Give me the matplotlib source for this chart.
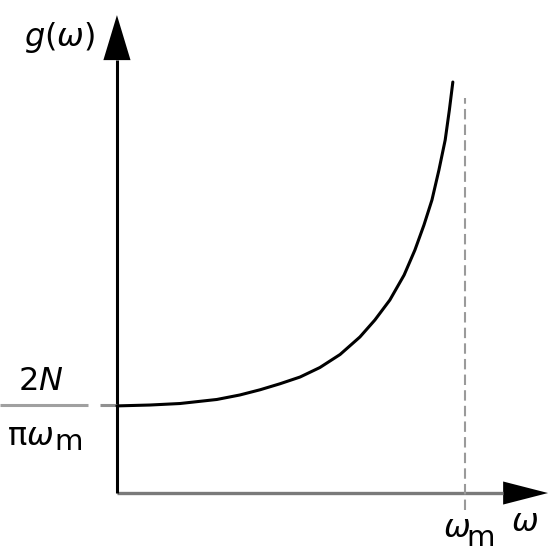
import matplotlib
matplotlib.use("Agg")
import matplotlib.pyplot as plt

# curve: omega / omega_m  vs  g / (2N / (pi omega_m))
omega = [0.0, 0.095, 0.181, 0.287, 0.353, 0.411, 0.468, 0.526, 0.583, 0.641,
         0.698, 0.741, 0.784, 0.825, 0.856, 0.882, 0.905, 0.925, 0.943, 0.955, 0.965]
g_val = [0.99, 1.0, 1.017, 1.063, 1.114, 1.173, 1.241, 1.318, 1.426, 1.574,
         1.773, 1.966, 2.193, 2.477, 2.761, 3.045, 3.330, 3.670, 4.011, 4.352, 4.670]

omega_m = 1.0
g_zero = 1.0

fig = plt.figure(figsize=(5.51, 5.60), dpi=100)
ax = fig.add_axes([0, 0, 1, 1])
ax.set_xlim(-0.336, 1.247)
ax.set_ylim(-0.761, 5.602)
ax.axis("off")

# axes with arrowheads
x_tip, y_tip = 1.2385, 5.43
xh_len, xh_w = 0.129, 0.131
yh_len, yh_w = 0.511, 0.039
ax.plot([0, x_tip - xh_len], [0, 0], color="#7a7a7a", lw=2.4, solid_capstyle="butt")
ax.fill([x_tip - xh_len, x_tip, x_tip - xh_len], [xh_w, 0, -xh_w], color="black", lw=0)
ax.plot([0, 0], [0, y_tip - yh_len], color="black", lw=2.2, solid_capstyle="butt")
ax.fill([-yh_w, 0, yh_w], [y_tip - yh_len, y_tip, y_tip - yh_len], color="black", lw=0)

# dashed omega_m line
ax.plot([omega_m, omega_m], [-0.19, 4.49], color="#9a9a9a", lw=1.5,
        dashes=(5, 2.5))

# fraction bar and tick at g(0)
ax.plot([-0.336, -0.083], [g_zero, g_zero], color="#a0a0a0", lw=2.2, solid_capstyle="butt")
ax.plot([-0.049, 0], [g_zero, g_zero], color="#909090", lw=2.2, solid_capstyle="butt")

# curve
ax.plot(omega, g_val, color="black", lw=2.2, solid_capstyle="round",
        solid_joinstyle="round")

# labels
fs = 23
ax.text(-0.218, 1.27, "2$N$", fontsize=fs, ha="center", va="center")
ax.text(-0.25, 0.64, r"$\mathrm{\pi}\omega$", fontsize=fs, ha="center", va="center")
ax.text(-0.14, 0.58, "m", fontsize=fs - 2, ha="center", va="center")
ax.text(-0.164, 5.18, r"$g(\omega)$", fontsize=fs, ha="center", va="center")
ax.text(0.975, -0.40, r"$\omega$", fontsize=fs, ha="center", va="center")
ax.text(1.045, -0.51, "m", fontsize=fs - 2, ha="center", va="center")
ax.text(1.172, -0.34, r"$\omega$", fontsize=fs, ha="center", va="center")

fig.savefig("out.png", dpi=100)
